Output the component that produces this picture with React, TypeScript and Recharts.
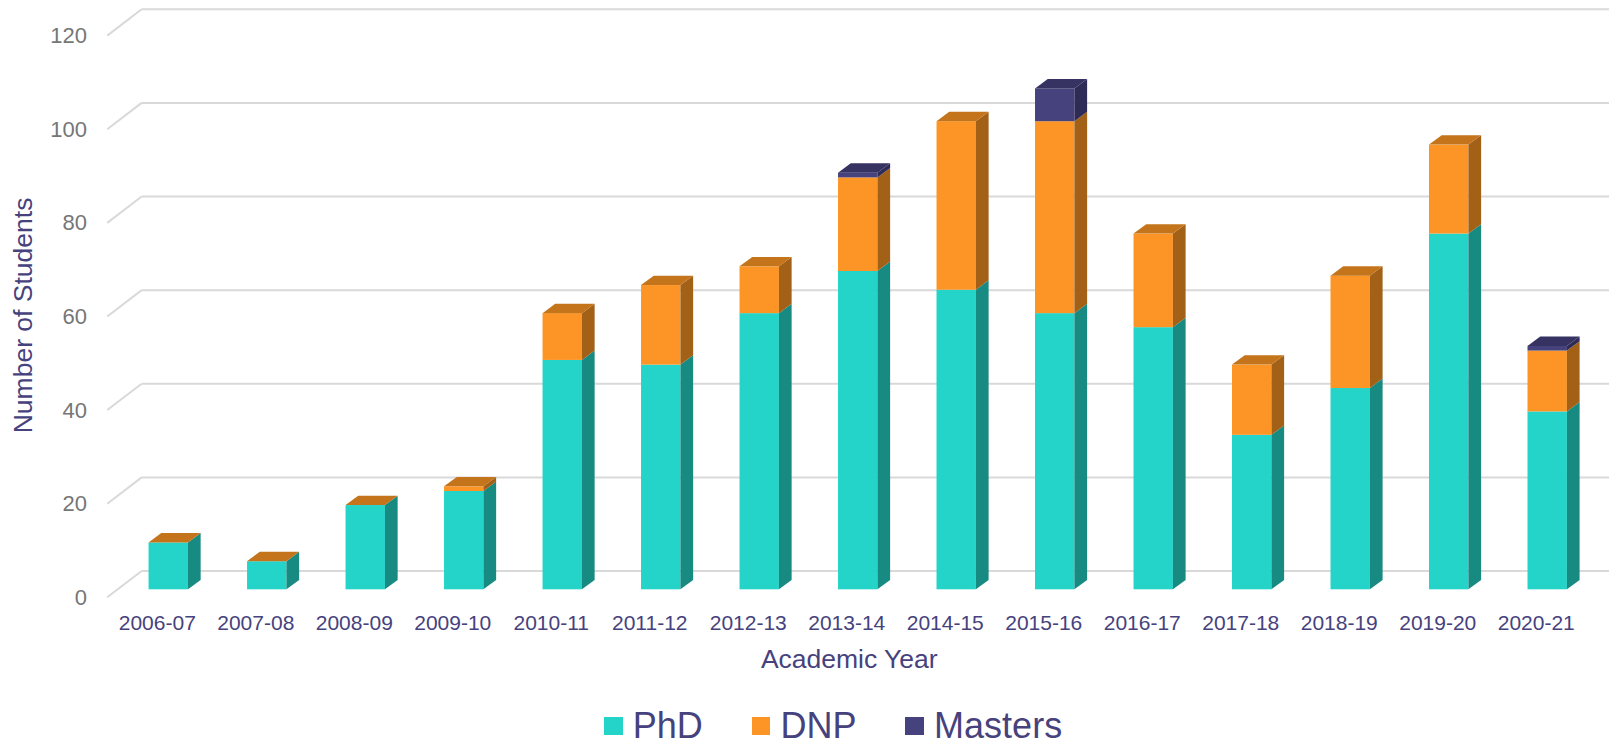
import { BarChart, Bar, XAxis, YAxis, CartesianGrid } from 'recharts'

const YEARS = [
  '2006-07', '2007-08', '2008-09', '2009-10', '2010-11', '2011-12', '2012-13', '2013-14',
  '2014-15', '2015-16', '2016-17', '2017-18', '2018-19', '2019-20', '2020-21',
]
const PHD = [10, 6, 18, 21, 49, 48, 59, 68, 64, 59, 56, 33, 43, 76, 38]
const DNP = [0, 0, 0, 1, 10, 17, 10, 20, 36, 41, 20, 15, 24, 19, 13]
const MASTERS = [null, null, null, null, null, null, null, 1, null, 7, null, null, null, null, 1]
const Y_TICKS = [0, 20, 40, 60, 80, 100, 120]

const SERIES = [
  { key: 'phd', name: 'PhD', front: '#25D4C9', side: '#178A82', top: '#1DAAA1' },
  { key: 'dnp', name: 'DNP', front: '#FD9526', side: '#A26117', top: '#C4741B' },
  { key: 'masters', name: 'Masters', front: '#46427D', side: '#2E2B56', top: '#363362' },
]

const TEXT = '#46427D'
const FONT = '"Liberation Sans", Arial, sans-serif'

// depth of a bar and of the floor/wall in the fake 3D view
const BAR_DX = 12.7
const BAR_DY = 9.4
const FRONT_DY = 8
const BACK_DY = 18.3

const data = YEARS.map((year, i) => ({
  year,
  phd: PHD[i],
  dnp: DNP[i],
  masters: MASTERS[i],
}))

type Row = (typeof data)[number]

function lastDefined(row: Row) {
  let idx = 0
  SERIES.forEach((s, i) => {
    if ((row as any)[s.key] != null) idx = i
  })
  return idx
}

function lastPositive(row: Row) {
  let idx = 0
  SERIES.forEach((s, i) => {
    if (((row as any)[s.key] ?? 0) > 0) idx = i
  })
  return idx
}

function makeShape(idx: number) {
  return function Bar3D(props: any) {
    const { x, y, width, height, payload } = props
    const s = SERIES[idx]
    const v = payload?.[s.key]
    if (v == null || v <= 0 || !height) return null
    const r = x + width
    const b = y + height
    const drawTop = lastPositive(payload) === idx
    const topColor = SERIES[lastDefined(payload)].top
    return (
      <g>
        <rect x={x} y={y} width={width} height={height} fill={s.front} />
        <polygon
          points={`${r},${b} ${r + BAR_DX},${b - BAR_DY} ${r + BAR_DX},${y - BAR_DY} ${r},${y}`}
          fill={s.side}
        />
        {drawTop && (
          <polygon
            points={`${x},${y} ${x + BAR_DX},${y - BAR_DY} ${r + BAR_DX},${y - BAR_DY} ${r},${y}`}
            fill={topColor}
          />
        )}
      </g>
    )
  }
}

function GridLine(props: any) {
  const { x1, y1, index } = props
  const frontX = x1 - 11.3
  const backX = x1 + 23.1
  return (
    <g key={`g-${index}`}>
      <line x1={frontX} y1={y1 + FRONT_DY} x2={backX} y2={y1 - BACK_DY} stroke="#D9D9D9" strokeWidth={2} />
      <line x1={backX} y1={y1 - BACK_DY} x2={1609} y2={y1 - BACK_DY} stroke="#D9D9D9" strokeWidth={2} />
    </g>
  )
}

function YTick(props: any) {
  const { y, payload } = props
  return (
    <text x={87} y={y + FRONT_DY} dy={7.5} textAnchor="end" fontSize={22} fill="#767676" fontFamily={FONT}>
      {payload.value}
    </text>
  )
}

function XTick(props: any) {
  const { x, y, payload } = props
  return (
    <text x={x - 10.5} y={y} dy={40.7} textAnchor="middle" fontSize={21} fill={TEXT} fontFamily={FONT}>
      {payload.value}
    </text>
  )
}

function XTitle(props: any) {
  const { viewBox } = props
  const cx = viewBox.x + viewBox.width / 2 - 8
  return (
    <text x={cx} y={668} textAnchor="middle" fontSize={26.5} fill={TEXT} fontFamily={FONT}>
      Academic Year
    </text>
  )
}

function YTitle(props: any) {
  const { viewBox } = props
  const cy = viewBox.y + viewBox.height / 2 + 7
  return (
    <text
      x={32.5}
      y={cy}
      transform={`rotate(-90, 32.5, ${cy})`}
      textAnchor="middle"
      fontSize={26.5}
      fill={TEXT}
      fontFamily={FONT}
    >
      Number of Students
    </text>
  )
}

export default function App() {
  return (
    <div style={{ position: 'relative', width: 1609, height: 747, overflow: 'hidden', background: '#fff' }}>
      <style>{'body { margin: 0; }'}</style>
      <BarChart
        width={1609}
        height={747}
        data={data}
        margin={{ top: 27.6, right: 13, bottom: 97.7, left: 0 }}
      >
        <CartesianGrid vertical={false} horizontal={(p: any) => <GridLine {...p} />} />
        <XAxis
          dataKey="year"
          height={60}
          axisLine={false}
          tickLine={false}
          tickSize={0}
          tickMargin={0}
          interval={0}
          tick={<XTick />}
          label={{ content: <XTitle /> }}
        />
        <YAxis
          width={118.55}
          domain={[0, 120]}
          ticks={Y_TICKS}
          axisLine={false}
          tickLine={false}
          tick={<YTick />}
          label={{ content: <YTitle /> }}
        />
        {SERIES.map((s, i) => (
          <Bar
            key={s.key}
            dataKey={s.key}
            name={s.name}
            stackId="a"
            barSize={39.4}
            fill={s.front}
            shape={makeShape(i)}
            isAnimationActive={false}
          />
        ))}
      </BarChart>
      <div
        style={{
          position: 'absolute',
          left: 604,
          top: 706,
          display: 'flex',
          alignItems: 'center',
          gap: 49,
          fontFamily: FONT,
          fontSize: 36,
          lineHeight: '40px',
          height: 40,
          color: TEXT,
          whiteSpace: 'nowrap',
        }}
      >
        {SERIES.map((s) => (
          <div key={s.key} style={{ display: 'flex', alignItems: 'center', gap: 10 }}>
            <span style={{ display: 'inline-block', width: 18.7, height: 18.7, background: s.front }} />
            <span>{s.name}</span>
          </div>
        ))}
      </div>
    </div>
  )
}
